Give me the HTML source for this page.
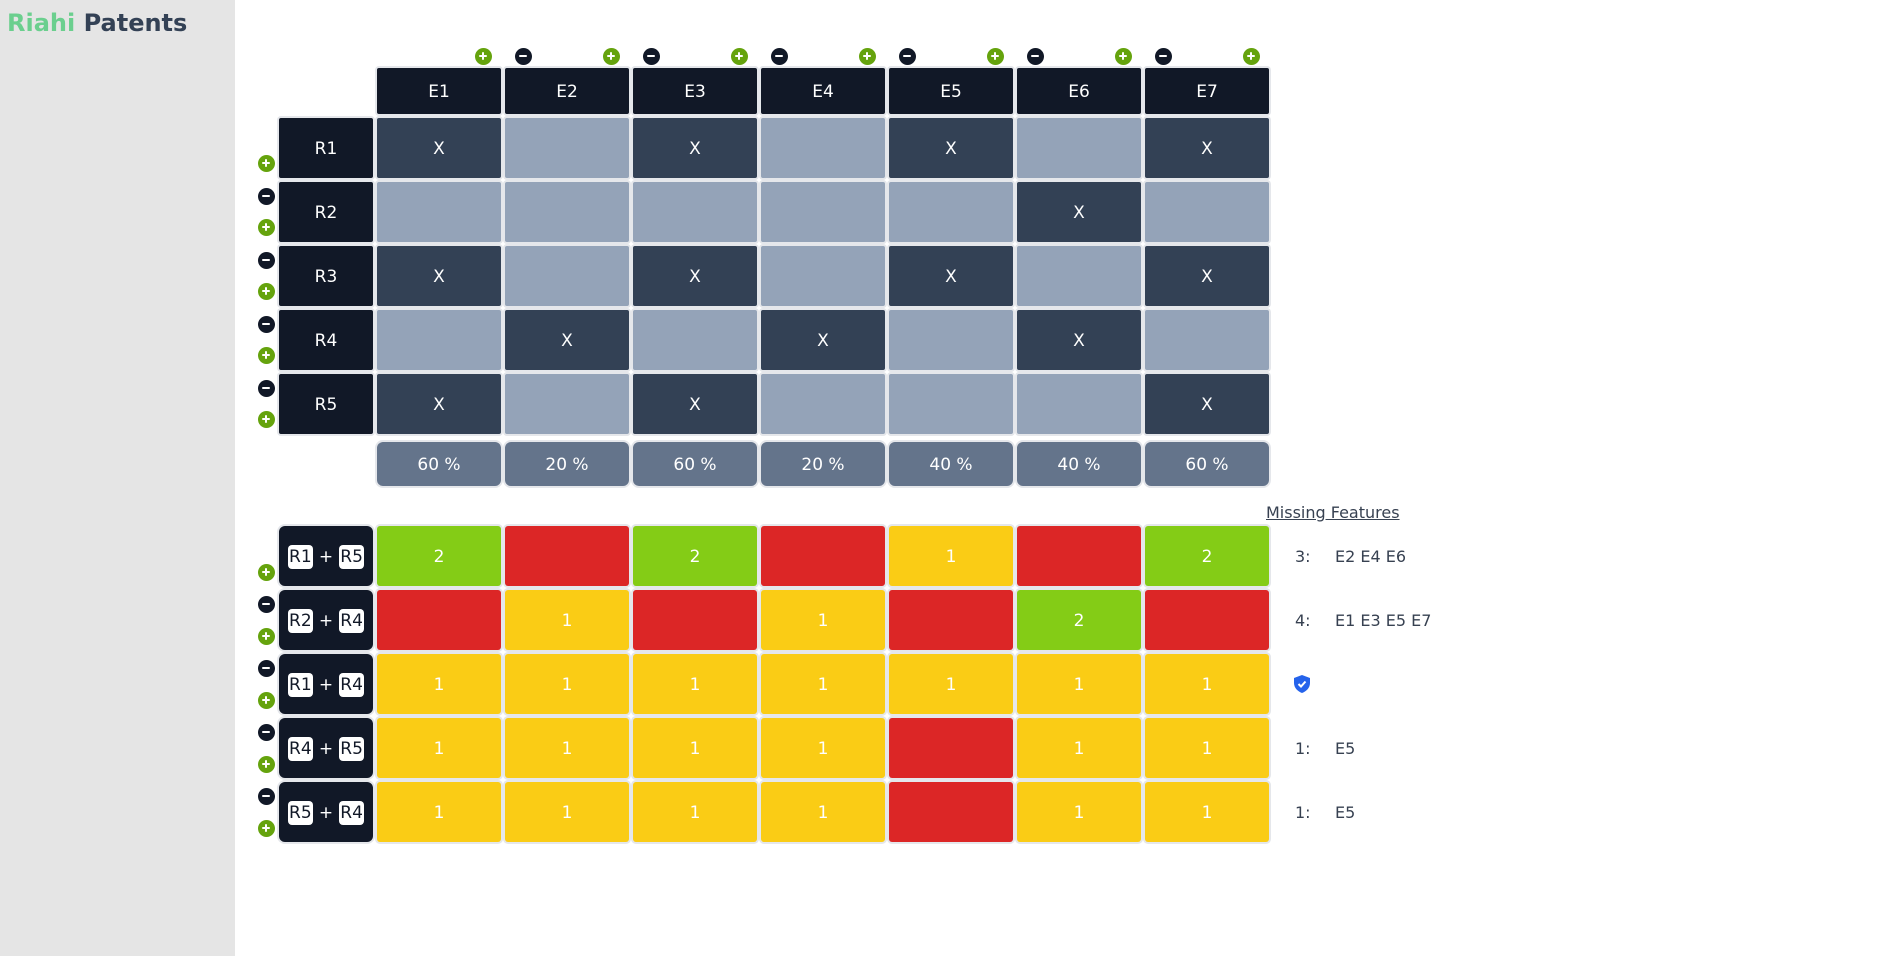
<!DOCTYPE html>
<html><head><meta charset="utf-8">
<style>
*{box-sizing:border-box;margin:0;padding:0}
body{width:1896px;height:956px;position:relative;background:#fff;font-family:"DejaVu Sans","Liberation Sans",sans-serif;overflow:hidden}
#side{position:absolute;left:0;top:0;width:235px;height:956px;background:#e5e5e5}
#title{position:absolute;left:7px;top:9px;font-size:24px;font-weight:bold;color:#334155}
#title span{color:#6bcf8e}
.b{position:absolute;display:flex;align-items:center;justify-content:center;color:#fff;font-size:17px;padding-top:2px;box-shadow:0 0 0 2px #e5e7eb}
.ic{position:absolute;width:17px;height:17px;border-radius:50%;display:flex;align-items:center;justify-content:center}
.ic i{position:absolute;background:#fff;width:8px;height:2.4px;border-radius:1px}
.ic i.v{width:2.4px;height:8px}
.chip{background:#fff;color:#111827;border-radius:4px;width:25px;height:24px;display:inline-flex;align-items:center;justify-content:center;font-size:17px}
.mf{position:absolute;color:#374151;font-size:16px}
</style></head>
<body>
<div id="side"></div>
<div id="title"><span>Riahi</span> Patents</div>
<div class="mf" style="left:1266px;top:503px;text-decoration:underline">Missing Features</div>
<div id="root"></div>
<script>
const features=["E1","E2","E3","E4","E5","E6","E7"];
const rows=["R1","R2","R3","R4","R5"];
const matrix=[[1,0,1,0,1,0,1],[0,0,0,0,0,1,0],[1,0,1,0,1,0,1],[0,1,0,1,0,1,0],[1,0,1,0,0,0,1]];
const percents=[60,20,60,20,40,40,60];
const combos=[["R1","R5"],["R2","R4"],["R1","R4"],["R4","R5"],["R5","R4"]];
const comboVals=[[2,0,2,0,1,0,2],[0,1,0,1,0,2,0],[1,1,1,1,1,1,1],[1,1,1,1,0,1,1],[1,1,1,1,0,1,1]];
const missCount=[3,4,0,1,1];
const missList=[["E2","E4","E6"],["E1","E3","E5","E7"],[],["E5"],["E5"]];

const root=document.getElementById('root');
const X0=377,PITCH=128,CW=124,LX=279,LW=94;
const colX=i=>X0+i*PITCH;
const topY=r=>118+r*64;
const botY=r=>526+r*64;
function box(x,y,w,h,bg,txt,rad){
  const d=document.createElement('div');d.className='b';
  d.style.cssText+=`left:${x}px;top:${y}px;width:${w}px;height:${h}px;background:${bg};border-radius:${rad}px`;
  if(txt!==undefined&&txt!=='')d.textContent=txt;
  root.appendChild(d);return d;
}
function icon(cx,cy,plus){
  const d=document.createElement('div');d.className='ic';
  d.style.cssText+=`left:${cx-8.5}px;top:${cy-8.5}px;background:${plus?'#65a30d':'#111827'}`;
  d.innerHTML=plus?'<i></i><i class="v"></i>':'<i></i>';
  root.appendChild(d);return d;
}
features.forEach((f,i)=>{
  const h=box(colX(i),68,CW,46,'#111827',f,2);
  
  
  if(i>0){const m=icon(colX(i)+18,56,false);
    
    }
  const p=icon(colX(i)+106,56,true);
  
  
  const pc=box(colX(i),442,CW,44,'#64748b',percents[i]+' %',6);
  
  
});
rows.forEach((r,ri)=>{
  const l=box(LX,topY(ri),LW,60,'#111827',r,2);
  
  
  if(ri>0){const m=icon(266,topY(ri)+14,false);
    
    }
  const p=icon(266,topY(ri)+45,true);
  
  
  matrix[ri].forEach((v,ci)=>{
    const c=box(colX(ci),topY(ri),CW,60,v?'#334155':'#94a3b8',v?'X':'',2);
    
    
  });
});
const colFor=v=>v>=2?'#84cc16':(v==1?'#facc15':'#dc2626');
combos.forEach((cb,ri)=>{
  const l=box(LX,botY(ri),LW,60,'#111827','',6);
  l.innerHTML=`<span class="chip">${cb[0]}</span><span style="margin:0 6px">+</span><span class="chip">${cb[1]}</span>`;
  
  
  if(ri>0){const m=icon(266,botY(ri)+14,false);
    
    }
  const p=icon(266,botY(ri)+46,true);
  
  
  comboVals[ri].forEach((v,ci)=>{
    const c=box(colX(ci),botY(ri),CW,60,colFor(v),v?String(v):'',3);
    
    
  });
  const cy=botY(ri)+30;
  if(missCount[ri]===0){
    const s=document.createElement('div');
    s.style.cssText=`position:absolute;left:1294px;top:${cy-9}px;width:16px;height:18px`;
    s.innerHTML='<svg width="16" height="18" viewBox="0 0 16 18"><path d="M8 0 L16 3 V8 C16 13 12 16.5 8 18 C4 16.5 0 13 0 8 V3 Z" fill="#2563eb"/><path d="M4.5 9 L7 11.5 L11.5 6.5" stroke="#fff" stroke-width="2" fill="none"/></svg>';
    
    
    root.appendChild(s);
  } else {
    const n=document.createElement('div');n.className='mf';
    n.style.cssText+=`left:1295px;top:${cy-9}px`;n.textContent=missCount[ri]+':';
    
    
    root.appendChild(n);
    const t=document.createElement('div');t.className='mf';
    t.style.cssText+=`left:1335px;top:${cy-9}px`;t.textContent=missList[ri].join(' ');
    
    
    root.appendChild(t);
  }
});
</script>
</body></html>
